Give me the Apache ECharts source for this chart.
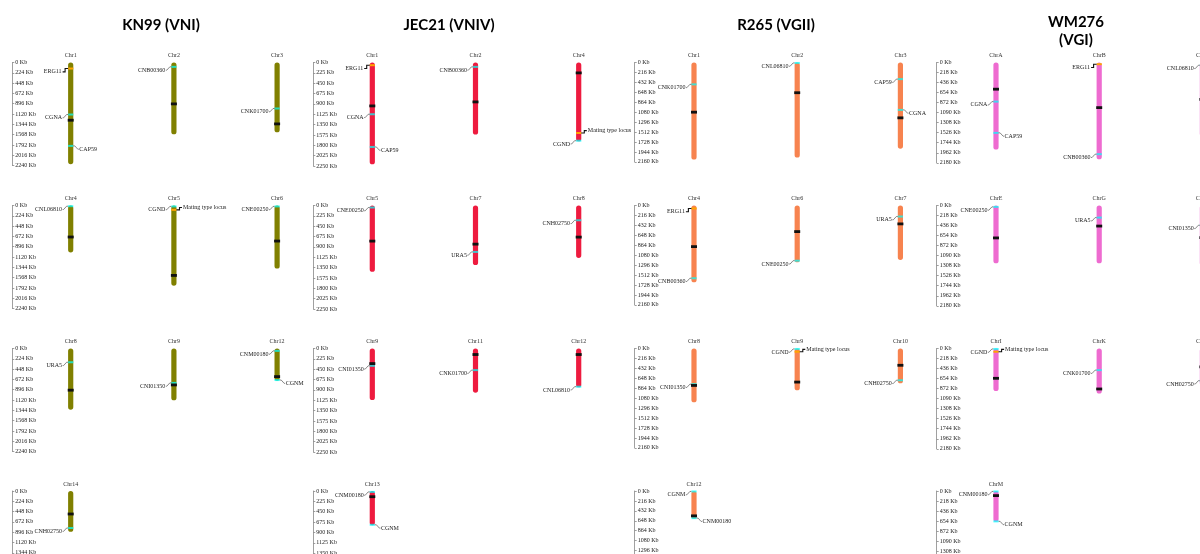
<!DOCTYPE html>
<html><head><meta charset="utf-8">
<script src="https://cdn.jsdelivr.net/npm/echarts@6/dist/echarts.min.js"></script>
<style>html,body{margin:0;padding:0;background:#fff}#c{width:1200px;height:554px}</style>
</head><body><div id="c"></div>
<script>
// ================= DATA =================
const strainTitles = ['KN99 (VNI)', 'JEC21 (VNIV)', 'R265 (VGII)', 'WM276\n(VGI)'];
const axisMax = [2240, 2250, 2160, 2180];
const axisStep = [224, 225, 216, 218];

// KN99 (VNI)
const kn99Chrom = ['Chr1','Chr2','Chr3','Chr4','Chr5','Chr6','Chr8','Chr9','Chr12','Chr14'];
const kn99Length = [2210, 1560, 1516, 1020, 1743, 1371, 1330, 1127, 699, 886];
const kn99Centromere = [1255, 900, 1335, 685, 1520, 773, 906, 792, 611, 500];
const kn99Genes = [
  ['Chr1','ERG11',131,'locus','L'], ['Chr1','CGNA',1131,'gene','L'], ['Chr1','CAP59',1813,'gene','R'],
  ['Chr2','CNB00360',95,'gene','L'], ['Chr3','CNK01700',1000,'gene','L'],
  ['Chr4','CNL06810',15,'gene','L'], ['Chr5','CGND',20,'gene','L'], ['Chr5','Mating type locus',95,'locus','R'],
  ['Chr6','CNE00250',20,'gene','L'], ['Chr8','URA5',299,'gene','L'], ['Chr9','CNI01350',748,'gene','L'],
  ['Chr12','CNM00180',52,'gene','L'], ['Chr12','CGNM',686,'gene','R'], ['Chr14','CNH02750',805,'gene','L']
];

// JEC21 (VNIV)
const jec21Chrom = ['Chr1','Chr2','Chr4','Chr5','Chr7','Chr8','Chr9','Chr11','Chr12','Chr13'];
const jec21Length = [2213, 1567, 1713, 1442, 1294, 1140, 1121, 961, 843, 743];
const jec21Centromere = [944, 857, 226, 774, 840, 687, 328, 131, 131, 124];
const jec21Genes = [
  ['Chr1','ERG11',59,'locus','L'], ['Chr1','CGNA',1125,'gene','L'], ['Chr1','CAP59',1836,'gene','R'],
  ['Chr2','CNB00360',95,'gene','L'], ['Chr4','Mating type locus',1532,'locus','R'], ['Chr4','CGND',1700,'gene','L'],
  ['Chr5','CNE00250',44,'gene','L'], ['Chr7','URA5',1009,'gene','L'], ['Chr8','CNH02750',321,'gene','L'],
  ['Chr9','CNI01350',376,'gene','L'], ['Chr11','CNK01700',470,'gene','L'], ['Chr12','CNL06810',830,'gene','L'],
  ['Chr13','CNM00180',20,'gene','L'], ['Chr13','CGNM',735,'gene','R']
];

// R265 (VGII)
const r265Chrom = ['Chr1','Chr2','Chr3','Chr4','Chr6','Chr7','Chr8','Chr9','Chr10','Chr12'];
const r265Length = [2110, 2067, 1873, 1671, 1235, 1184, 1168, 910, 756, 605];
const r265Centromere = [1080, 657, 1203, 894, 567, 400, 803, 730, 365, 540];
const r265Genes = [
  ['Chr1','CNK01700',475,'gene','L'], ['Chr2','CNL06810',10,'gene','L'],
  ['Chr3','CAP59',361,'gene','L'], ['Chr3','CGNA',1030,'gene','R'],
  ['Chr4','ERG11',65,'locus','L'], ['Chr4','CNB00360',1581,'gene','L'],
  ['Chr6','CNE00250',1200,'gene','L'], ['Chr7','URA5',240,'gene','L'], ['Chr8','CNI01350',775,'gene','L'],
  ['Chr9','CGND',10,'gene','L'], ['Chr9','Mating type locus',70,'locus','R'], ['Chr10','CNH02750',690,'gene','L'],
  ['Chr12','CGNM',10,'gene','L'], ['Chr12','CNM00180',590,'gene','R']
];

// WM276 (VGI)
const wm276Chrom = ['ChrA','ChrB','ChrC','ChrE','ChrG','ChrH','ChrI','ChrK','ChrL','ChrM'];
const wm276Length = [1892, 2103, 1600, 1255, 1255, 1300, 925, 980, 800, 665];
const wm276Centromere = [580, 981, 800, 705, 447, 700, 648, 880, 400, 100];
const wm276Genes = [
  ['ChrA','CGNA',850,'gene','L'], ['ChrA','CAP59',1530,'gene','R'],
  ['ChrB','ERG11',37,'locus','L'], ['ChrB','CNB00360',1993,'gene','L'], ['ChrC','CNL06810',60,'gene','L'],
  ['ChrE','CNE00250',30,'gene','L'], ['ChrG','URA5',263,'gene','L'], ['ChrH','CNI01350',430,'gene','L'],
  ['ChrI','CGND',10,'gene','L'], ['ChrI','Mating type locus',70,'locus','R'], ['ChrK','CNK01700',470,'gene','L'],
  ['ChrL','CNH02750',700,'gene','L'], ['ChrM','CNM00180',10,'gene','L'], ['ChrM','CGNM',660,'gene','R']
];

// ================= LAYOUT / STYLE =================
const strainColors = ['#808000', '#EE1B3F', '#F7834F', '#EE6BD0'];
const geneColor = 'rgba(0,255,255,0.72)';
const locusColor = '#FFA500';
const axisX = [12.3, 313.3, 634.7, 936.7];
const col0X = [70.7, 372.3, 694, 996];
const colSpacing = 103.2;
const rowTops = [62.5, 205.5, 348.5, 491];
const pxPerKb = 0.046;
const titleX = [161, 449, 776, 1076];
const titleY = [25, 25, 25, 31];
const serif = '"Liberation Serif", "DejaVu Serif", serif';

const strains = [
  {chrom: kn99Chrom, len: kn99Length, cen: kn99Centromere, genes: kn99Genes},
  {chrom: jec21Chrom, len: jec21Length, cen: jec21Centromere, genes: jec21Genes},
  {chrom: r265Chrom, len: r265Length, cen: r265Centromere, genes: r265Genes},
  {chrom: wm276Chrom, len: wm276Length, cen: wm276Centromere, genes: wm276Genes}
];

const grids = [], xAxes = [], yAxes = [], series = [];

function makeRender(items, color) {
  return function (params, api) {
    const it = items[params.dataIndex];
    if (it.kind === 'chrom') {
      const t = api.coord([it.col, 0]);
      const b = api.coord([it.col, it.len]);
      return {type: 'group', children: [
        {type: 'rect', shape: {x: t[0] - 2.6, y: t[1], width: 5.2, height: b[1] - t[1], r: 2.6},
         style: {fill: color}},
        {type: 'text', x: t[0], y: t[1] - 7,
         style: {text: it.name, font: '6px ' + serif, fill: '#333', textAlign: 'center', textVerticalAlign: 'middle'}}
      ]};
    }
    if (it.kind === 'cen') {
      const p = api.coord([it.col, it.kb]);
      return {type: 'rect', shape: {x: p[0] - 3, y: p[1] - 1.4, width: 6, height: 2.8}, style: {fill: '#111'}};
    }
    // gene / locus
    const p = api.coord([it.col, it.kb]);
    const x = p[0], gy = p[1];
    const isLocus = it.kind === 'locus';
    const left = it.side === 'L';
    const ly = gy + ((isLocus && !left) ? -2.3 : 3.3);
    const sgn = left ? -1 : 1;
    const e = x + sgn * 2.6;
    let pts, tx;
    if (isLocus) {
      pts = [[e, gy], [e + sgn * 3, gy], [e + sgn * 3, ly], [e + sgn * 5.5, ly]];
      tx = e + sgn * 6.5;
    } else {
      pts = [[e, gy], [e + sgn * 1.5, gy], [e + sgn * 4.5, ly], [e + sgn * 5.5, ly]];
      tx = e + sgn * 6;
    }
    return {type: 'group', children: [
      {type: 'rect', shape: {x: x - 2.6, y: gy - 1, width: 5.2, height: 2},
       style: {fill: isLocus ? locusColor : geneColor}},
      {type: 'polyline', shape: {points: pts},
       style: {stroke: isLocus ? '#111' : '#555', lineWidth: isLocus ? 1.1 : 0.7, fill: null}},
      {type: 'text', x: tx, y: ly,
       style: {text: it.label, font: '6px ' + serif, fill: '#222',
               textAlign: left ? 'right' : 'left', textVerticalAlign: 'middle'}}
    ]};
  };
}

strains.forEach((st, s) => {
  const nRows = Math.ceil(st.chrom.length / 3);
  for (let r = 0; r < nRows; r++) {
    const gi = grids.length;
    const left = col0X[s] - colSpacing / 2;
    grids.push({left: left, top: rowTops[r], width: colSpacing * 3, height: axisMax[s] * pxPerKb,
                containLabel: false, outerBoundsMode: 'none'});
    xAxes.push({type: 'value', gridIndex: gi, min: -0.5, max: 2.5, show: false});
    yAxes.push({
      type: 'value', gridIndex: gi, inverse: true, min: 0, max: axisMax[s], interval: axisStep[s],
      offset: left - axisX[s],
      axisLine: {show: true, onZero: false, lineStyle: {color: '#888', width: 0.8}},
      axisTick: {show: true, inside: true, length: 2, lineStyle: {color: '#888', width: 0.8}},
      axisLabel: {show: true, inside: true, margin: 3, fontSize: 6, fontFamily: serif, color: '#222',
                  formatter: v => v + ' Kb', showMinLabel: true, showMaxLabel: true, hideOverlap: false},
      splitLine: {show: false}
    });
    const chromItems = [], geneItems = [], cenItems = [];
    for (let c = 0; c < 3; c++) {
      const idx = r * 3 + c;
      if (idx >= st.chrom.length) break;
      const name = st.chrom[idx];
      chromItems.push({kind: 'chrom', col: c, len: st.len[idx], name: name, kb: 0});
      cenItems.push({kind: 'cen', col: c, kb: st.cen[idx]});
      st.genes.filter(g => g[0] === name).forEach(g => {
        geneItems.push({kind: g[3], col: c, kb: g[2], label: g[1], side: g[4]});
      });
    }
    const items = chromItems.concat(geneItems, cenItems);
    series.push({
      type: 'custom', xAxisIndex: gi, yAxisIndex: gi, silent: true, animation: false, clip: false,
      data: items.map(it => [it.col, it.kb]),
      renderItem: makeRender(items, strainColors[s])
    });
  }
});

const graphics = strainTitles.map((t, i) => ({
  type: 'text', x: titleX[i], y: titleY[i], silent: true,
  style: {text: t, font: 'bold 15px Lato, "Open Sans", sans-serif', fill: '#000',
          textAlign: 'center', textVerticalAlign: 'middle', lineHeight: 18}
}));

const chart = echarts.init(document.getElementById('c'), null, {renderer: 'canvas'});
chart.setOption({
  animation: false,
  backgroundColor: '#fff',
  grid: grids, xAxis: xAxes, yAxis: yAxes, series: series,
  graphic: graphics
});
</script>
</body></html>
